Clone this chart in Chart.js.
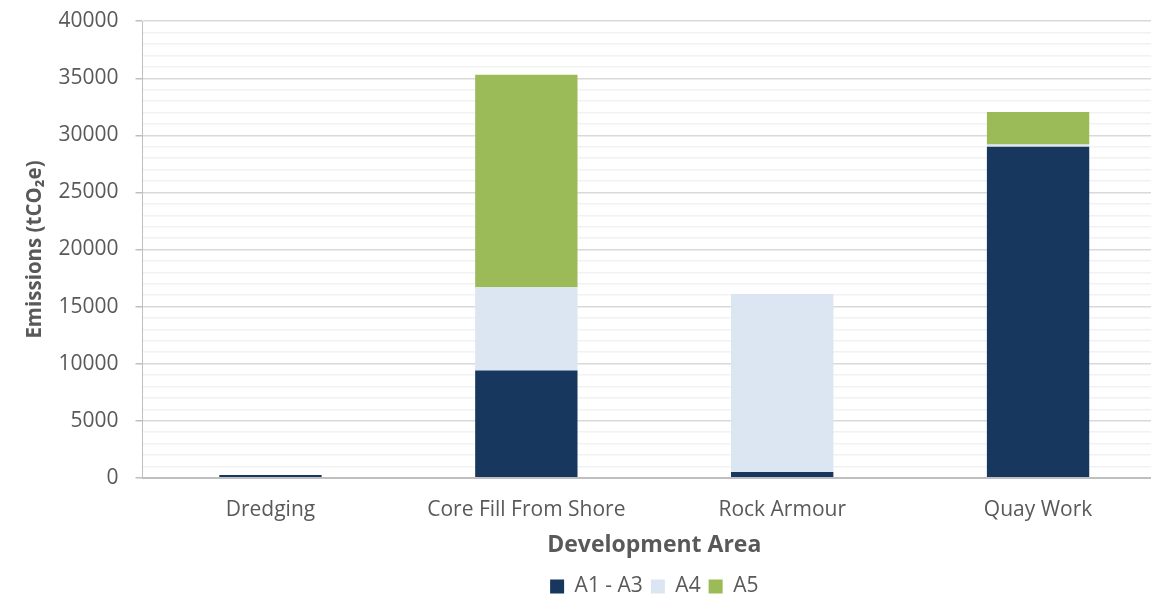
<!DOCTYPE html>
<html>
<head>
<meta charset="utf-8">
<script src="https://cdn.jsdelivr.net/npm/chart.js@4"></script>
<style>
  html, body { margin: 0; padding: 0; background: #fff; overflow: hidden; }
  #wrap { position: relative; width: 1166px; height: 598px; }
</style>
</head>
<body>
<div id="wrap"><canvas id="emissions"></canvas></div>
<script>
const categories = ['Dredging', 'Core Fill From Shore', 'Rock Armour', 'Quay Work'];
const a1a3 = [250, 9400, 500, 29000];
const a4 = [0, 7300, 15600, 200];
const a5 = [0, 18600, 0, 2850];

const textColor = '#595959';
const font = 'Open Sans';

const ctx = document.getElementById('emissions');

// centre the legend under the plot area, not the whole canvas
const legendUnderPlot = {
    id: 'legendUnderPlot',
    afterLayout(chart) {
        const { legend, chartArea } = chart
        if (!legend) return
        legend.left = chartArea.left
        legend.right = chartArea.right
    }
}

new Chart(ctx, {
    type: 'bar',
    data: {
        labels: categories,
        datasets: [
            { label: 'A1 - A3', data: a1a3, backgroundColor: '#17375e' },
            { label: 'A4', data: a4, backgroundColor: '#dce6f2' },
            { label: 'A5', data: a5, backgroundColor: '#9bbb59' },
        ],
    },
    options: {
        responsive: true,
        maintainAspectRatio: false,
        animation: false,
        layout: {
            padding: { top: 3, left: 25, right: 0, bottom: -9 }
        },
        datasets: {
            bar: { categoryPercentage: 1, barPercentage: 0.4, borderWidth: 0 }
        },
        plugins: {
            legend: {
                position: 'bottom',
                labels: {
                    color: textColor,
                    font: { family: font, size: 21 },
                    boxWidth: 14,
                    boxHeight: 14,
                    padding: 8,
                }
            },
            tooltip: { enabled: false }
        },
        scales: {
            x: {
                stacked: true,
                grid: { display: false },
                border: { color: '#bfbfbf', width: 2 },
                ticks: { color: textColor, font: { family: font, size: 21 }, padding: 12 },
                title: {
                    display: true,
                    text: 'Development Area',
                    color: textColor,
                    font: { family: font, size: 23, weight: 'bold', lineHeight: 1 },
                    padding: { top: -1, bottom: 11 }
                }
            },
            y: {
                stacked: true,
                min: 0,
                max: 40000,
                border: { color: '#bfbfbf', width: 1 },
                grid: {
                    color: c => c.tick && c.tick.value % 5000 === 0 ? '#d9d9d9' : '#f2f2f2',
                    lineWidth: 1.5,
                    tickColor: c => c.tick && c.tick.value % 5000 === 0 ? '#bfbfbf' : 'rgba(0,0,0,0)',
                    tickLength: 7,
                },
                ticks: {
                    stepSize: 1000,
                    autoSkip: false,
                    color: textColor,
                    font: { family: font, size: 21, lineHeight: 0.4 },
                    padding: 17,
                    callback: v => v % 5000 === 0 ? v : ''
                },
                title: {
                    display: true,
                    text: 'Emissions (tCO₂e)',
                    color: textColor,
                    font: { family: font, size: 20.5, weight: 'bold', lineHeight: 1 },
                    padding: { top: 0, bottom: -4 }
                }
            }
        }
    },
    plugins: [legendUnderPlot]
});
</script>
</body>
</html>
